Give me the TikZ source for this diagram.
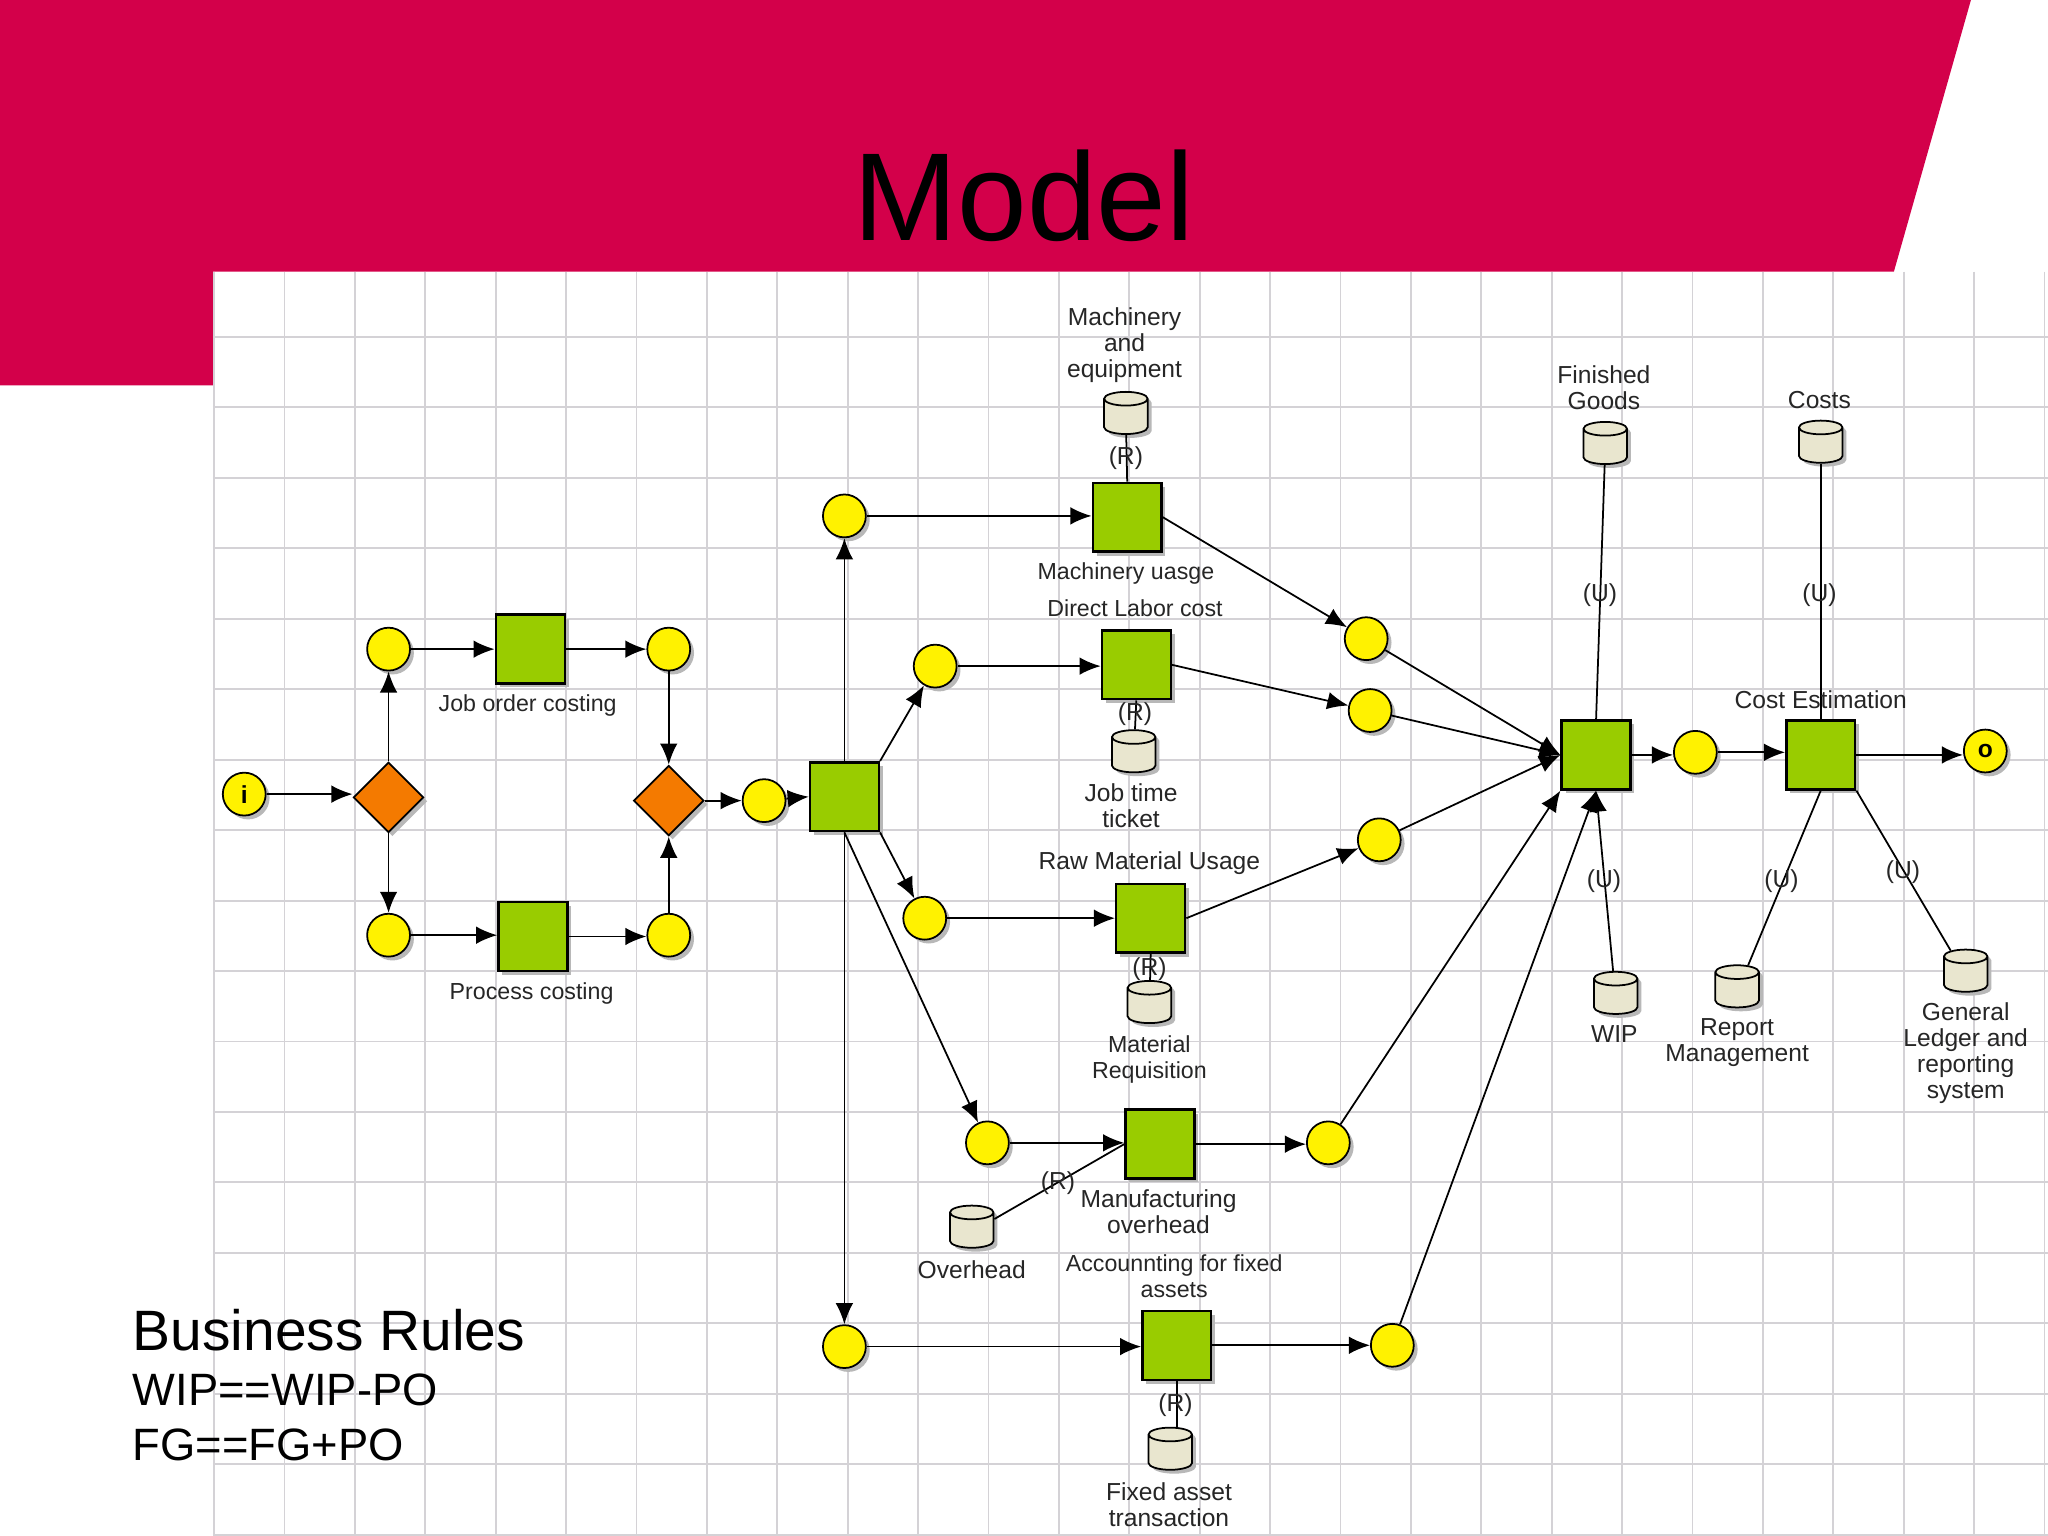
\documentclass[tikz,border=0pt]{standalone}
\usepackage{fontspec}
\setmainfont{Liberation Sans}
\usetikzlibrary{arrows.meta,shapes.geometric,shadows}
\definecolor{banner}{HTML}{D3004A}
\definecolor{gridline}{HTML}{D4D2D6}
\definecolor{taskgreen}{HTML}{99CC00}
\definecolor{gateorange}{HTML}{F47A00}
\definecolor{storecream}{HTML}{E9E6CF}
\def\pxunit{0.01306cm}

\begin{document}
\begin{tikzpicture}[x=\pxunit,y=-\pxunit,>={Latex[length=6pt,width=5pt]},line width=0.5pt]
    \tikzstyle{soft}=[drop shadow={shadow xshift=1.1pt,shadow yshift=-1.1pt,fill=black!28,opacity=1}]
    \tikzstyle{state}=[circle,draw=black,fill=yellow,minimum size=12.2pt,inner sep=0pt,soft]
    \tikzstyle{task}=[rectangle,draw=black,line width=0.7pt,fill=taskgreen,minimum size=19.6pt,inner sep=0pt,soft]
    \tikzstyle{gate}=[diamond,draw=black,fill=gateorange,minimum size=20pt,inner sep=0pt,soft]
    \tikzstyle{store}=[cylinder,shape border rotate=90,shape aspect=3,draw=black,fill=storecream,minimum width=12.4pt,minimum height=12pt,inner sep=0.65pt,yshift=-1.6pt,soft]
    \tikzstyle{annot}=[text=black!85,inner sep=0pt,align=center,font=\fontsize{7}{7.4}\selectfont]
    \tikzstyle{narrow}=[annot,font=\fontsize{6.6}{7.4}\selectfont]
    \tikzstyle{bigtext}=[anchor=base west,inner sep=0pt]

    % slide background
    \useasboundingbox (0,0) rectangle (1568,1176);
    \fill[white] (0,0) rectangle (1568,1176);
    \fill[banner] (0,0) -- (1509,0) -- (1450,208) -- (163,208) -- (163,295) -- (0,295) -- cycle;
    \foreach \k in {0,...,26}
        \draw[gridline,line width=0.55pt] ({163.9+53.9*\k},208) -- ({163.9+53.9*\k},1176);
    \foreach \k in {0,...,17}
        \draw[gridline,line width=0.55pt] (163,{258+53.94*\k}) -- (1568,{258+53.94*\k});

    % left part
    \node[state] (start) at (187,608) {\fontsize{7}{7}\selectfont\bfseries i};
    \node[gate] (split) at (297.5,610.5) {};
    \node[state] (jobin) at (297.5,497) {};
    \node[state] (procin) at (297.5,716) {};
    \node[task] (job) at (406,497) {};
    \node[task] (proc) at (408,717) {};
    \node[state] (jobout) at (512,497) {};
    \node[state] (procout) at (512,716) {};
    \node[gate] (merge) at (512,613) {};
    \node[state] (before) at (585,613) {};
    \node[task] (hub) at (646.5,610) {};

    % cost tasks
    \node[state] (machin) at (646.5,395) {};
    \node[task] (mach) at (863,396) {};
    \node[state] (laborin) at (716,510) {};
    \node[task] (labor) at (870,509) {};
    \node[state] (rawin) at (708,703) {};
    \node[task] (raw) at (881,703) {};
    \node[state] (ovhin) at (756,875) {};
    \node[task] (ovh) at (888,876) {};
    \node[state] (fixin) at (646.5,1031) {};
    \node[task] (fix) at (901,1030) {};
    \node[state] (machout) at (1046,489) {};
    \node[state] (laborout) at (1049,544) {};
    \node[state] (rawout) at (1056,643) {};
    \node[state] (ovhout) at (1017,875) {};
    \node[state] (fixout) at (1066,1030) {};

    % right part
    \node[task] (collect) at (1222,578) {};
    \node[state] (after) at (1298,576) {};
    \node[task] (estim) at (1394,578) {};
    \node[state] (end) at (1520,575) {\fontsize{7}{7}\selectfont\bfseries o};

    % data stores
    \node[store] (machdb) at (862,316) {};
    \node[store] (ticketdb) at (868,575) {};
    \node[store] (reqdb) at (880,767) {};
    \node[store] (ovhdb) at (744,939) {};
    \node[store] (fixdb) at (896,1109) {};
    \node[store] (fgdb) at (1229,339) {};
    \node[store] (costdb) at (1394,338) {};
    \node[store] (wipdb) at (1237,760) {};
    \node[store] (repdb) at (1330,755) {};
    \node[store] (gldb) at (1505,743) {};

    % flows
    \draw[->] (start) -- (start -| split.west);
    \draw[->] (split.north) -- (jobin);
    \draw[->] (split.south) -- (procin);
    \draw[->] (jobin) -- (jobin -| job.west);
    \draw[->] (procin) -- (procin -| proc.west);
    \draw[->] (job.east) -- (job.east -| jobout.west);
    \draw[->] (proc.east) -- (proc.east -| procout.west);
    \draw[->] (jobout) -- (merge.north);
    \draw[->] (procout) -- (merge.south);
    \draw[->] (merge.east) -- (before);
    \draw[->] (before) -- (hub.west);
    \draw[->] (hub.north) -- (machin);
    \draw[->] (hub.north east) -- (laborin);
    \draw[->] (hub.south east) -- (rawin);
    \draw[->] (hub.south) -- (ovhin);
    \draw[->] (hub.south) -- (fixin);
    \draw[->] (machin) -- (machin -| mach.west);
    \draw[->] (laborin) -- (laborin -| labor.west);
    \draw[->] (rawin) -- (rawin -| raw.west);
    \draw[->] (ovhin) -- (ovhin -| ovh.west);
    \draw[->] (fixin) -- (fixin -| fix.west);
    \draw[->] (mach.east) -- (machout);
    \draw[->] (labor.east) -- (laborout);
    \draw[->] (raw.east) -- (rawout);
    \draw[->] (ovh.east) -- (ovh.east -| ovhout.west);
    \draw[->] (fix.east) -- (fix.east -| fixout.west);
    \draw[->] (machout) -- (collect.west);
    \draw[->] (laborout) -- (collect.west);
    \draw[->] (rawout) -- (collect.west);
    \draw[->] (ovhout) -- (collect.south west);
    \draw[->] (fixout) -- (collect.south);
    \draw[->] (wipdb) -- (collect.south);
    \draw[->] (collect.east) -- (collect.east -| after.west);
    \draw[->] (after) -- (after -| estim.west);
    \draw[->] (estim.east) -- (estim.east -| end.west);

    % store links
    \draw (machdb) -- (mach.north);
    \draw (ticketdb) -- (labor.south);
    \draw (reqdb) -- (raw.south);
    \draw (ovhdb) -- (ovh.west);
    \draw (fix.south) -- (fix.south |- fixdb.north);
    \draw (fgdb) -- (collect.north);
    \draw (costdb) -- (estim.north);
    \draw (repdb) -- (estim.south);
    \draw (gldb) -- (estim.south east);

    % link labels
    \node[annot] (r1) at (862,351) {(R)};
    \node[annot] (r2) at (869,547) {(R)};
    \node[annot] (r3) at (880,742) {(R)};
    \node[annot] (r4) at (810,906) {(R)};
    \node[annot] (r5) at (900,1076) {(R)};
    \node[annot] (u1) at (1225,456) {(U)};
    \node[annot] (u2) at (1393,456) {(U)};
    \node[annot] (u3) at (1228,675) {(U)};
    \node[annot] (u4) at (1364,675) {(U)};
    \node[annot] (u5) at (1457,668) {(U)};

    % names
    \node[narrow] (jobname) at (404,540) {Job order costing};
    \node[narrow] (procname) at (407,761) {Process costing};
    \node[narrow] (machname) at (862,439) {Machinery uasge};
    \node[narrow] (laborname) at (869,466) {Direct Labor cost};
    \node[annot] (rawname) at (880,661) {Raw Material Usage};
    \node[annot] (ovhname) at (887,928) {Manufacturing\\overhead};
    \node[narrow] (fixname) at (899,977) {Accounnting for fixed\\assets};
    \node[annot] (estimname) at (1394,536) {Cost Estimation};
    \node[annot] (machdbname) at (861,264) {Machinery\\and\\equipment};
    \node[annot] (ticketname) at (866,617) {Job time\\ticket};
    \node[narrow] (reqname) at (880,811) {Material\\Requisition};
    \node[annot] (ovhdbname) at (744,972) {Overhead};
    \node[annot] (fixdbname) at (895,1152) {Fixed asset\\transaction};
    \node[annot] (fgname) at (1228,297) {Finished\\Goods};
    \node[annot] (costname) at (1393,306) {Costs};
    \node[annot] (wipname) at (1236,792) {WIP};
    \node[annot] (repname) at (1330,798) {Report\\Management};
    \node[annot] (glname) at (1505,806) {General\\Ledger and\\reporting\\system};

    % slide text
    \node[inner sep=0pt,anchor=base] (title) at (784,184) {\fontsize{35.6}{35.6}\selectfont Model};
    \node[bigtext] (rules) at (101,1034) {\fontsize{16.2}{16.2}\selectfont Business Rules};
    \node[bigtext] (wiprule) at (101,1076) {\fontsize{12.9}{12.9}\selectfont WIP==WIP-PO};
    \node[bigtext] (fgrule) at (101,1118) {\fontsize{12.9}{12.9}\selectfont FG==FG+PO};
\end{tikzpicture}
\end{document}
